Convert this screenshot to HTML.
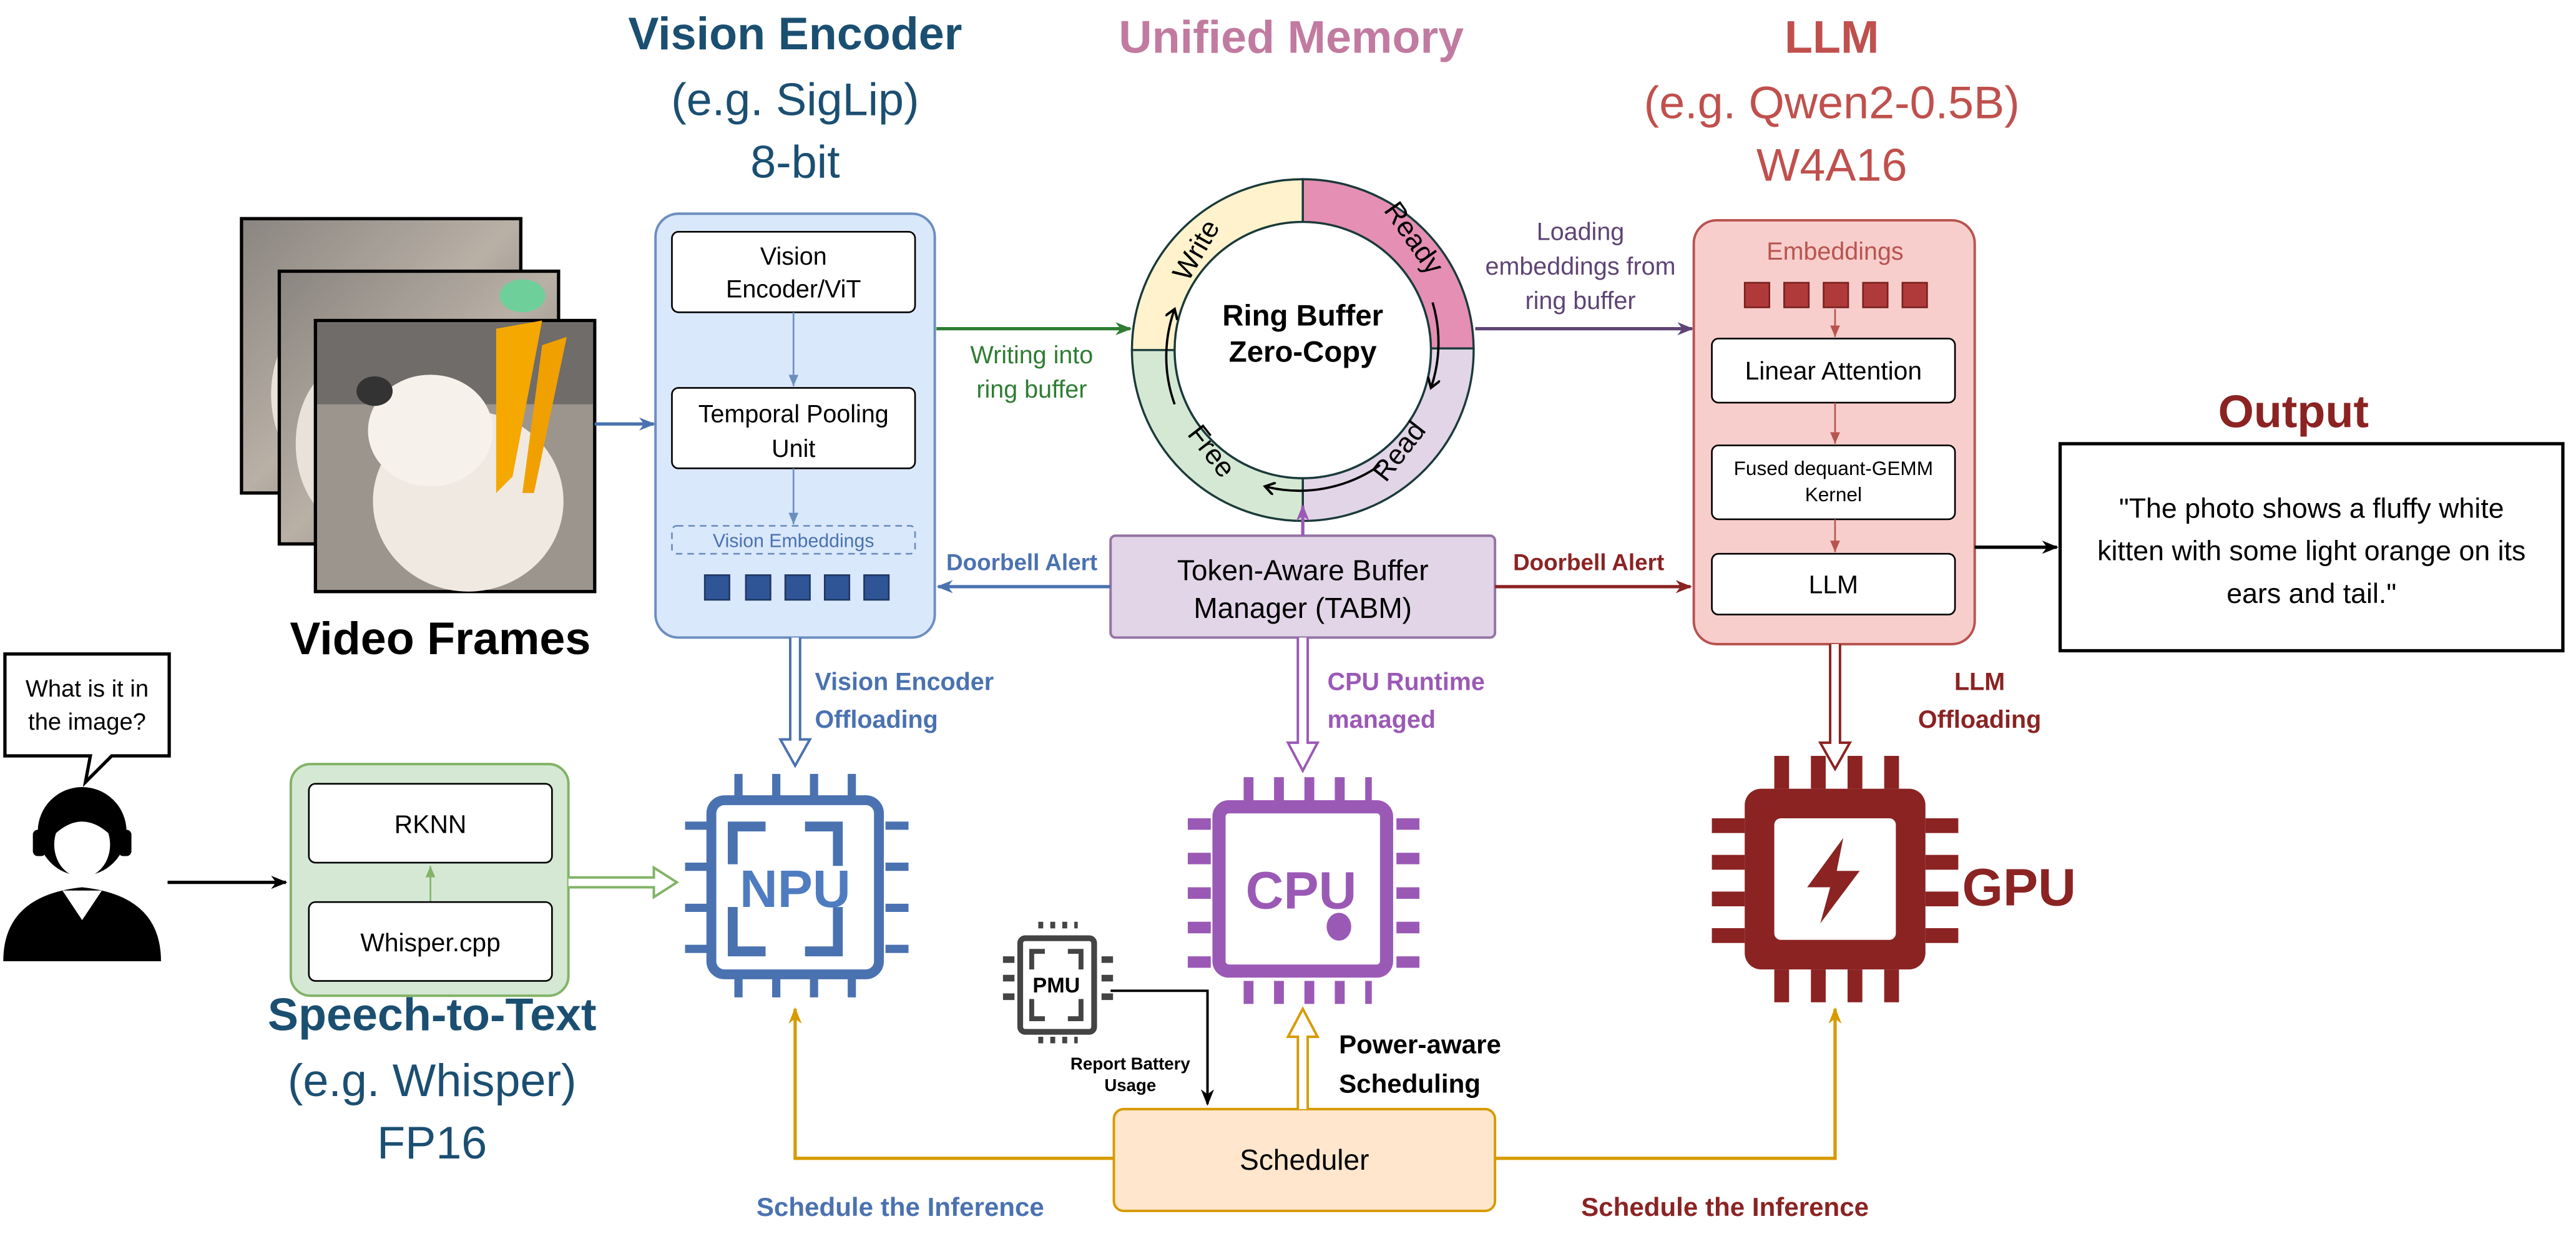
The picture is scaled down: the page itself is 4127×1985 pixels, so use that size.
<!DOCTYPE html>
<html><head><meta charset="utf-8"><style>
html,body{margin:0;padding:0;background:#fff;}
svg{display:block;font-family:"Liberation Sans",Arial,sans-serif;}
</style></head><body>
<svg width="4127" height="1985" viewBox="0 0 1568 754" xmlns="http://www.w3.org/2000/svg">
<defs>
<marker id="ab" markerWidth="10" markerHeight="10" refX="9" refY="5" orient="auto" markerUnits="userSpaceOnUse"><path d="M0,1 L10,5 L0,9 L3,5 Z" fill="#4a72b0"/></marker>
<marker id="ag" markerWidth="10" markerHeight="10" refX="9" refY="5" orient="auto" markerUnits="userSpaceOnUse"><path d="M0,1 L10,5 L0,9 L3,5 Z" fill="#2e7d32"/></marker>
<marker id="ap" markerWidth="10" markerHeight="10" refX="9" refY="5" orient="auto" markerUnits="userSpaceOnUse"><path d="M0,1 L10,5 L0,9 L3,5 Z" fill="#5e4474"/></marker>
<marker id="av" markerWidth="10" markerHeight="10" refX="9" refY="5" orient="auto" markerUnits="userSpaceOnUse"><path d="M0,1 L10,5 L0,9 L3,5 Z" fill="#9b59b6"/></marker>
<marker id="ar" markerWidth="10" markerHeight="10" refX="9" refY="5" orient="auto" markerUnits="userSpaceOnUse"><path d="M0,1 L10,5 L0,9 L3,5 Z" fill="#8b2323"/></marker>
<marker id="ao" markerWidth="10" markerHeight="10" refX="9" refY="5" orient="auto" markerUnits="userSpaceOnUse"><path d="M0,1 L10,5 L0,9 L3,5 Z" fill="#d79b00"/></marker>
<marker id="ak" markerWidth="10" markerHeight="10" refX="9" refY="5" orient="auto" markerUnits="userSpaceOnUse"><path d="M0,1 L10,5 L0,9 L3,5 Z" fill="#000"/></marker>
<marker id="ak2" markerWidth="8" markerHeight="8" refX="6" refY="4" orient="auto" markerUnits="userSpaceOnUse"><path d="M0,0 L6,4 L0,8" fill="none" stroke="#000" stroke-width="1.5"/></marker>
<marker id="asb" markerWidth="8" markerHeight="8" refX="7" refY="4" orient="auto" markerUnits="userSpaceOnUse"><path d="M0,1 L7,4 L0,7 Z" fill="#6c8ebf"/></marker>
<marker id="asr" markerWidth="8" markerHeight="8" refX="7" refY="4" orient="auto" markerUnits="userSpaceOnUse"><path d="M0,1 L7,4 L0,7 Z" fill="#b85450"/></marker>
<marker id="asg" markerWidth="8" markerHeight="8" refX="7" refY="4" orient="auto" markerUnits="userSpaceOnUse"><path d="M0,1 L7,4 L0,7 Z" fill="#82b366"/></marker>
<linearGradient id="fr" x1="0" y1="0" x2="1" y2="1"><stop offset="0" stop-color="#8a8580"/><stop offset="0.5" stop-color="#b9b0a6"/><stop offset="1" stop-color="#6d6a66"/></linearGradient>
</defs>

<g text-anchor="middle">
<text x="484" y="30" font-size="28" font-weight="bold" fill="#1b4f72">Vision Encoder</text>
<text x="484" y="70" font-size="28" fill="#1b4f72">(e.g. SigLip)</text>
<text x="484" y="108" font-size="28" fill="#1b4f72">8-bit</text>
<text x="786" y="32" font-size="28" font-weight="bold" fill="#c27ba0">Unified Memory</text>
<text x="1115" y="32" font-size="28" font-weight="bold" fill="#c0504d">LLM</text>
<text x="1115" y="72" font-size="28" fill="#c0504d">(e.g. Qwen2-0.5B)</text>
<text x="1115" y="110" font-size="28" fill="#c0504d">W4A16</text>
<text x="1396" y="260" font-size="28" font-weight="bold" fill="#8b2323">Output</text>
<text x="263" y="627" font-size="28" font-weight="bold" fill="#1b4f72">Speech-to-Text</text>
<text x="263" y="667" font-size="28" fill="#1b4f72">(e.g. Whisper)</text>
<text x="263" y="705" font-size="28" fill="#1b4f72">FP16</text>
<text x="268" y="398" font-size="28" font-weight="bold" fill="#000">Video Frames</text>
</g>

<rect x="147" y="133" width="170" height="167" fill="url(#fr)" stroke="#000" stroke-width="2"/>
<ellipse cx="200" cy="240" rx="35" ry="50" fill="#e8e2da"/>
<rect x="170" y="165" width="170" height="166" fill="url(#fr)" stroke="#000" stroke-width="2"/>
<ellipse cx="215" cy="270" rx="35" ry="50" fill="#e8e2da"/>
<rect x="192" y="195" width="170" height="165" fill="#9c958e" stroke="#000" stroke-width="2"/>
<rect x="193" y="196" width="168" height="50" fill="#6f6c69"/>
<ellipse cx="285" cy="305" rx="58" ry="55" fill="#efe9e2"/>
<ellipse cx="262" cy="262" rx="38" ry="34" fill="#f6f1ea"/>
<ellipse cx="228" cy="238" rx="11" ry="9" fill="#333"/>
<path d="M302,200 L330,195 L312,290 L302,300 Z" fill="#f5a800"/>
<path d="M330,210 L345,205 L325,300 L318,300 Z" fill="#f0a000"/>
<ellipse cx="318" cy="180" rx="14" ry="10" fill="#6fcf9a"/>

<rect x="399" y="130" width="170" height="258" rx="14" fill="#dae8fc" stroke="#6c8ebf" stroke-width="1.5"/>
<rect x="409" y="141" width="148" height="49" rx="4" fill="#fff" stroke="#000"/>
<text x="483" y="161" font-size="15" text-anchor="middle">Vision</text>
<text x="483" y="181" font-size="15" text-anchor="middle">Encoder/ViT</text>
<line x1="483" y1="190" x2="483" y2="235" stroke="#6c8ebf" marker-end="url(#asb)"/>
<rect x="409" y="236" width="148" height="49" rx="4" fill="#fff" stroke="#000"/>
<text x="483" y="257" font-size="15" text-anchor="middle">Temporal Pooling</text>
<text x="483" y="278" font-size="15" text-anchor="middle">Unit</text>
<line x1="483" y1="285" x2="483" y2="319" stroke="#6c8ebf" marker-end="url(#asb)"/>
<rect x="409" y="320" width="148" height="17" rx="3" fill="none" stroke="#6c8ebf" stroke-dasharray="4 3"/>
<text x="483" y="333" font-size="11.5" text-anchor="middle" fill="#4a72b0">Vision Embeddings</text>
<g fill="#2f5597" stroke="#1f3864"><rect x="429" y="350" width="15" height="15"/><rect x="454" y="350" width="15" height="15"/><rect x="478" y="350" width="15" height="15"/><rect x="502" y="350" width="15" height="15"/><rect x="526" y="350" width="15" height="15"/></g>
<line x1="362" y1="258" x2="398" y2="258" stroke="#4a72b0" stroke-width="2" marker-end="url(#ab)"/>

<g stroke="#1a3a3a" stroke-width="1.3">
<path d="M793,109 A104,104 0 0 1 897,212 L871,212 A78,78 0 0 0 793,135 Z" fill="#e48fb3"/>
<path d="M897,212 A104,104 0 0 1 793,317 L793,291 A78,78 0 0 0 871,212 Z" fill="#e1d5e7"/>
<path d="M793,317 A104,104 0 0 1 689,213 L715,213 A78,78 0 0 0 793,291 Z" fill="#d5e8d4"/>
<path d="M689,213 A104,104 0 0 1 793,109 L793,135 A78,78 0 0 0 715,213 Z" fill="#fff2cc"/>
</g>
<circle cx="793" cy="213" r="78" fill="#fff" stroke="#1a3a3a" stroke-width="1.3"/>
<g fill="none" stroke="#000" stroke-width="1.4" marker-end="url(#ak2)">
<path d="M715,246 A85,85 0 0 1 715,188"/>
<path d="M872,184 A85,85 0 0 1 871,236"/>
<path d="M840,283 A85,85 0 0 1 770,296"/>
</g>
<g font-size="17" text-anchor="middle">
<text transform="translate(733,155) rotate(-60)">Write</text>
<text transform="translate(856,148) rotate(55)">Ready</text>
<text transform="translate(856,278) rotate(-52)">Read</text>
<text transform="translate(733,278) rotate(52)">Free</text>
</g>
<text x="793" y="198" font-size="18" font-weight="bold" text-anchor="middle">Ring Buffer</text>
<text x="793" y="220" font-size="18" font-weight="bold" text-anchor="middle">Zero-Copy</text>

<line x1="570" y1="200" x2="688" y2="200" stroke="#2e7d32" stroke-width="2" marker-end="url(#ag)"/>
<text x="628" y="221" font-size="15" fill="#2e7d32" text-anchor="middle">Writing into</text>
<text x="628" y="242" font-size="15" fill="#2e7d32" text-anchor="middle">ring buffer</text>
<line x1="898" y1="200" x2="1030" y2="200" stroke="#5e4474" stroke-width="2" marker-end="url(#ap)"/>
<text x="962" y="146" font-size="15" fill="#5e4474" text-anchor="middle">Loading</text>
<text x="962" y="167" font-size="15" fill="#5e4474" text-anchor="middle">embeddings from</text>
<text x="962" y="188" font-size="15" fill="#5e4474" text-anchor="middle">ring buffer</text>

<rect x="1031" y="134" width="171" height="258" rx="14" fill="#f8cecc" stroke="#b85450" stroke-width="1.5"/>
<text x="1117" y="158" font-size="15" fill="#b85450" text-anchor="middle">Embeddings</text>
<g fill="#b03a3a" stroke="#7a2020"><rect x="1062" y="172" width="15" height="15"/><rect x="1086" y="172" width="15" height="15"/><rect x="1110" y="172" width="15" height="15"/><rect x="1134" y="172" width="15" height="15"/><rect x="1158" y="172" width="15" height="15"/></g>
<line x1="1117" y1="188" x2="1117" y2="205" stroke="#b85450" marker-end="url(#asr)"/>
<rect x="1042" y="206" width="148" height="39" rx="4" fill="#fff" stroke="#000"/>
<text x="1116" y="231" font-size="15.5" text-anchor="middle">Linear Attention</text>
<line x1="1117" y1="245" x2="1117" y2="270" stroke="#b85450" marker-end="url(#asr)"/>
<rect x="1042" y="271" width="148" height="45" rx="4" fill="#fff" stroke="#000"/>
<text x="1116" y="289" font-size="12" text-anchor="middle">Fused dequant-GEMM</text>
<text x="1116" y="305" font-size="12" text-anchor="middle">Kernel</text>
<line x1="1117" y1="316" x2="1117" y2="336" stroke="#b85450" marker-end="url(#asr)"/>
<rect x="1042" y="337" width="148" height="37" rx="4" fill="#fff" stroke="#000"/>
<text x="1116" y="361" font-size="15.5" text-anchor="middle">LLM</text>

<line x1="1202" y1="333" x2="1252" y2="333" stroke="#000" stroke-width="2" marker-end="url(#ak)"/>
<rect x="1254" y="270" width="306" height="126" fill="#fff" stroke="#000" stroke-width="2"/>
<g font-size="17" text-anchor="middle"><text x="1407" y="315">"The photo shows a fluffy white</text><text x="1407" y="341">kitten with some light orange on its</text><text x="1407" y="367">ears and tail."</text></g>

<rect x="676" y="326" width="234" height="62" rx="3" fill="#e1d5e7" stroke="#9673a6" stroke-width="1.5"/>
<text x="793" y="353" font-size="17.5" text-anchor="middle">Token-Aware Buffer</text>
<text x="793" y="376" font-size="17.5" text-anchor="middle">Manager (TABM)</text>
<line x1="793" y1="326" x2="793" y2="308" stroke="#9b59b6" stroke-width="2" marker-end="url(#av)"/>
<line x1="676" y1="357" x2="571" y2="357" stroke="#4a72b0" stroke-width="2" marker-end="url(#ab)"/>
<text x="622" y="347" font-size="14" font-weight="bold" fill="#4a72b0" text-anchor="middle">Doorbell Alert</text>
<line x1="910" y1="357" x2="1029" y2="357" stroke="#8b2323" stroke-width="2" marker-end="url(#ar)"/>
<text x="967" y="347" font-size="14" font-weight="bold" fill="#8b2323" text-anchor="middle">Doorbell Alert</text>

<path d="M481,388 L481,450 L475,450 L484,466 L493,450 L487,450 L487,388" fill="#fff" stroke="#4a72b0" stroke-width="1.5"/>
<text x="496" y="420" font-size="15" font-weight="bold" fill="#4a72b0">Vision Encoder</text>
<text x="496" y="443" font-size="15" font-weight="bold" fill="#4a72b0">Offloading</text>
<path d="M790,388 L790,452 L784,452 L793,469 L802,452 L796,452 L796,388" fill="#fff" stroke="#9b59b6" stroke-width="1.5"/>
<text x="808" y="420" font-size="15" font-weight="bold" fill="#9b59b6">CPU Runtime</text>
<text x="808" y="443" font-size="15" font-weight="bold" fill="#9b59b6">managed</text>
<path d="M1114,392 L1114,452 L1108,452 L1117,468 L1126,452 L1120,452 L1120,392" fill="#fff" stroke="#8b2323" stroke-width="1.5"/>
<text x="1205" y="420" font-size="15" font-weight="bold" fill="#8b2323" text-anchor="middle">LLM</text>
<text x="1205" y="443" font-size="15" font-weight="bold" fill="#8b2323" text-anchor="middle">Offloading</text>

<g stroke="#4a72b0" fill="none">
<line x1="447" y1="478" x2="525" y2="478" stroke-width="14" stroke-dasharray="5 18"/>
<line x1="447" y1="600" x2="525" y2="600" stroke-width="14" stroke-dasharray="5 18"/>
<line x1="424" y1="500" x2="424" y2="580" stroke-width="14" stroke-dasharray="5 20"/>
<line x1="546" y1="500" x2="546" y2="580" stroke-width="14" stroke-dasharray="5 20"/>
<rect x="433" y="487" width="102" height="106" rx="8" fill="#fff" stroke-width="6"/>
<path d="M446,526 L446,503 L466,503 M490,503 L510,503 L510,527 M446,552 L446,579 L466,579 M490,579 L510,579 L510,552" stroke-width="6"/>
</g>
<text x="484" y="552" font-size="32" font-weight="bold" fill="#4f7cc0" text-anchor="middle">NPU</text>

<g stroke="#9b59b6" fill="none">
<line x1="757" y1="480" x2="835" y2="480" stroke-width="14" stroke-dasharray="6 12.5"/>
<line x1="757" y1="604" x2="835" y2="604" stroke-width="14" stroke-dasharray="6 12.5"/>
<line x1="730" y1="498" x2="730" y2="593" stroke-width="14" stroke-dasharray="7 14"/>
<line x1="857" y1="498" x2="857" y2="593" stroke-width="14" stroke-dasharray="7 14"/>
<rect x="742" y="491" width="102" height="100" rx="6" fill="#fff" stroke-width="8"/>
</g>
<text x="792" y="553" font-size="32" font-weight="bold" fill="#9b59b6" text-anchor="middle">CPU</text>
<ellipse cx="815" cy="564" rx="7.5" ry="8.5" fill="#9b59b6"/>

<g stroke="#8b2323" fill="none">
<line x1="1080" y1="470" x2="1156" y2="470" stroke-width="20" stroke-dasharray="9 13.3"/>
<line x1="1080" y1="600" x2="1156" y2="600" stroke-width="20" stroke-dasharray="9 13.3"/>
<line x1="1052" y1="498" x2="1052" y2="574" stroke-width="20" stroke-dasharray="9 13.3"/>
<line x1="1182" y1="498" x2="1182" y2="574" stroke-width="20" stroke-dasharray="9 13.3"/>
</g>
<rect x="1062" y="480" width="110" height="110" rx="10" fill="#8b2323"/>
<rect x="1080" y="498" width="74" height="74" rx="4" fill="#fff"/>
<path d="M1122,510 L1100,540 L1114,540 L1108,562 L1132,530 L1118,530 Z" fill="#8b2323"/>
<text x="1229" y="551" font-size="32" font-weight="bold" fill="#8b2323" text-anchor="middle">GPU</text>

<path d="M3,398 H103 V460 H68 L52,476 L55,460 H3 Z" fill="#fff" stroke="#000" stroke-width="2"/>
<text x="53" y="424" font-size="14.5" text-anchor="middle">What is it in</text>
<text x="53" y="444" font-size="14.5" text-anchor="middle">the image?</text>
<path d="M2,585 Q2,545 50,540 Q98,545 98,585 Z" fill="#000"/>
<path d="M38,542 L50,560 L62,542 Z" fill="#fff"/>
<circle cx="50" cy="506" r="27" fill="#000"/>
<ellipse cx="50" cy="514" rx="17" ry="20" fill="#fff"/>
<path d="M33,508 Q50,492 67,508 L67,498 Q50,480 33,498 Z" fill="#000"/>
<rect x="20" y="505" width="8" height="16" rx="3" fill="#000"/>
<rect x="72" y="505" width="8" height="16" rx="3" fill="#000"/>
<line x1="102" y1="537" x2="174" y2="537" stroke="#000" stroke-width="2" marker-end="url(#ak)"/>

<rect x="177" y="465" width="169" height="141" rx="12" fill="#d5e8d4" stroke="#82b366" stroke-width="1.5"/>
<rect x="188" y="477" width="148" height="48" rx="4" fill="#fff" stroke="#000"/>
<text x="262" y="507" font-size="15.5" text-anchor="middle">RKNN</text>
<line x1="262" y1="549" x2="262" y2="527" stroke="#82b366" marker-end="url(#asg)"/>
<rect x="188" y="549" width="148" height="48" rx="4" fill="#fff" stroke="#000"/>
<text x="262" y="579" font-size="15.5" text-anchor="middle">Whisper.cpp</text>
<path d="M346,534 L398,534 L398,528 L412,537 L398,546 L398,540 L346,540" fill="#fff" stroke="#82b366" stroke-width="1.5"/>

<g stroke="#444" fill="none">
<line x1="632" y1="563" x2="656" y2="563" stroke-width="4" stroke-dasharray="3 4.3"/>
<line x1="632" y1="633" x2="656" y2="633" stroke-width="4" stroke-dasharray="3 4.3"/>
<line x1="614" y1="582" x2="614" y2="614" stroke-width="7" stroke-dasharray="4 7.3"/>
<line x1="674" y1="582" x2="674" y2="614" stroke-width="7" stroke-dasharray="4 7.3"/>
<rect x="621" y="571" width="45" height="57" rx="3" fill="#fff" stroke-width="3.5"/>
<path d="M628,590 V579 H636 M650,579 H658 V590 M628,608 V620 H636 M650,620 H658 V608" stroke-width="3"/>
</g>
<text x="643" y="604" font-size="13" font-weight="bold" text-anchor="middle">PMU</text>
<path d="M676,603 H735 V672" fill="none" stroke="#000" stroke-width="1.5" marker-end="url(#ak)"/>
<text x="688" y="651" font-size="10.5" font-weight="bold" text-anchor="middle">Report Battery</text>
<text x="688" y="664" font-size="10.5" font-weight="bold" text-anchor="middle">Usage</text>

<rect x="678" y="675" width="232" height="62" rx="6" fill="#ffe6cc" stroke="#d79b00" stroke-width="1.5"/>
<text x="794" y="712" font-size="17.5" text-anchor="middle">Scheduler</text>
<path d="M678,705 H484 V614" fill="none" stroke="#d79b00" stroke-width="2" marker-end="url(#ao)"/>
<path d="M910,705 H1117 V614" fill="none" stroke="#d79b00" stroke-width="2" marker-end="url(#ao)"/>
<path d="M790,675 L790,631 L784,631 L793,614 L802,631 L796,631 L796,675" fill="#fff" stroke="#d79b00" stroke-width="1.5"/>
<text x="815" y="641" font-size="16" font-weight="bold">Power-aware</text>
<text x="815" y="665" font-size="16" font-weight="bold">Scheduling</text>
<text x="548" y="740" font-size="16" font-weight="bold" fill="#4a72b0" text-anchor="middle">Schedule the Inference</text>
<text x="1050" y="740" font-size="16" font-weight="bold" fill="#8b2323" text-anchor="middle">Schedule the Inference</text>
</svg>
</body></html>
